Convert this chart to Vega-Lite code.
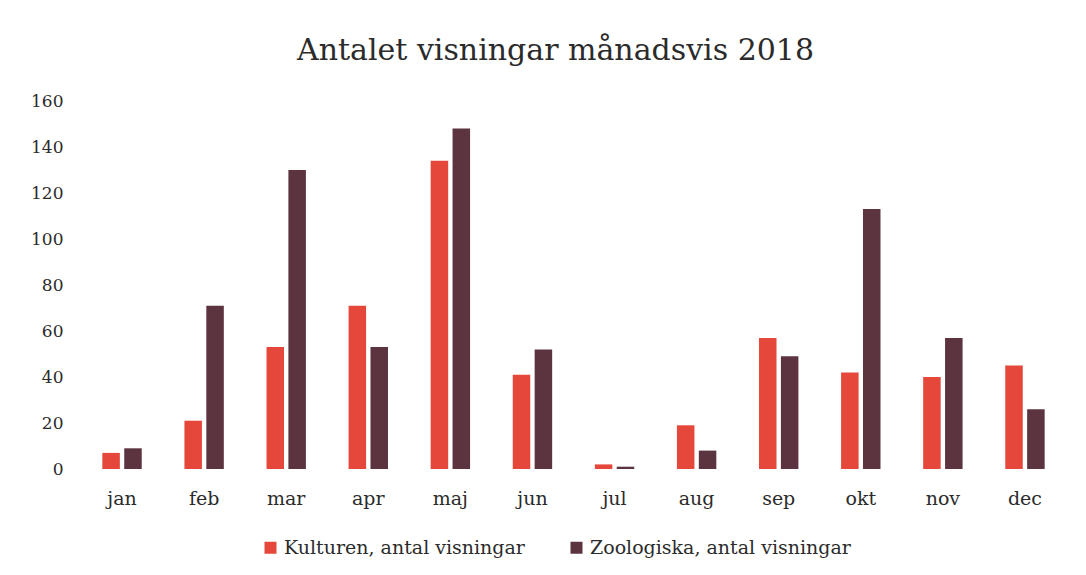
{
  "$schema": "https://vega.github.io/schema/vega-lite/v6.json",
  "width": 985,
  "height": 368,
  "autosize": "none",
  "padding": {"left": 81, "top": 101, "right": 20, "bottom": 106},
  "background": "white",
  "title": {
    "text": "Antalet visningar månadsvis 2018",
    "font": "DejaVu Serif",
    "fontSize": 30,
    "fontWeight": "normal",
    "color": "#2b2b2b",
    "anchor": "middle",
    "dx": -18,
    "offset": 26
  },
  "data": {
    "values": [
      {"month": "jan", "serie": "Kulturen, antal visningar", "value": 7},
      {"month": "jan", "serie": "Zoologiska, antal visningar", "value": 9},
      {"month": "feb", "serie": "Kulturen, antal visningar", "value": 21},
      {"month": "feb", "serie": "Zoologiska, antal visningar", "value": 71},
      {"month": "mar", "serie": "Kulturen, antal visningar", "value": 53},
      {"month": "mar", "serie": "Zoologiska, antal visningar", "value": 130},
      {"month": "apr", "serie": "Kulturen, antal visningar", "value": 71},
      {"month": "apr", "serie": "Zoologiska, antal visningar", "value": 53},
      {"month": "maj", "serie": "Kulturen, antal visningar", "value": 134},
      {"month": "maj", "serie": "Zoologiska, antal visningar", "value": 148},
      {"month": "jun", "serie": "Kulturen, antal visningar", "value": 41},
      {"month": "jun", "serie": "Zoologiska, antal visningar", "value": 52},
      {"month": "jul", "serie": "Kulturen, antal visningar", "value": 2},
      {"month": "jul", "serie": "Zoologiska, antal visningar", "value": 1},
      {"month": "aug", "serie": "Kulturen, antal visningar", "value": 19},
      {"month": "aug", "serie": "Zoologiska, antal visningar", "value": 8},
      {"month": "sep", "serie": "Kulturen, antal visningar", "value": 57},
      {"month": "sep", "serie": "Zoologiska, antal visningar", "value": 49},
      {"month": "okt", "serie": "Kulturen, antal visningar", "value": 42},
      {"month": "okt", "serie": "Zoologiska, antal visningar", "value": 113},
      {"month": "nov", "serie": "Kulturen, antal visningar", "value": 40},
      {"month": "nov", "serie": "Zoologiska, antal visningar", "value": 57},
      {"month": "dec", "serie": "Kulturen, antal visningar", "value": 45},
      {"month": "dec", "serie": "Zoologiska, antal visningar", "value": 26}
    ]
  },
  "mark": {"type": "bar"},
  "encoding": {
    "x": {
      "field": "month",
      "type": "nominal",
      "sort": ["jan","feb","mar","apr","maj","jun","jul","aug","sep","okt","nov","dec"],
      "scale": {"paddingInner": 0.52, "paddingOuter": 0.26},
      "axis": {
        "title": null,
        "labelAngle": 0,
        "labelFont": "DejaVu Serif",
        "labelFontSize": 19,
        "labelColor": "#2b2b2b",
        "labelPadding": 20,
        "domain": false,
        "ticks": false
      }
    },
    "xOffset": {
      "field": "serie",
      "type": "nominal",
      "scale": {"paddingInner": 0.2}
    },
    "y": {
      "field": "value",
      "type": "quantitative",
      "scale": {"domain": [0, 160], "nice": false},
      "axis": {
        "title": null,
        "values": [0,20,40,60,80,100,120,140,160],
        "labelFont": "DejaVu Serif",
        "labelFontSize": 17,
        "labelColor": "#2b2b2b",
        "labelPadding": 18,
        "domain": false,
        "ticks": false,
        "grid": false
      }
    },
    "color": {
      "field": "serie",
      "type": "nominal",
      "scale": {"range": ["#e6473b", "#5b3440"]},
      "legend": {
        "title": null,
        "orient": "none",
        "legendX": 180,
        "legendY": 437,
        "direction": "horizontal",
        "symbolType": "square",
        "symbolSize": 144,
        "labelFont": "DejaVu Serif",
        "labelFontSize": 19,
        "labelColor": "#2b2b2b",
        "columnPadding": 42,
        "labelLimit": 400
      }
    }
  },
  "config": {"view": {"stroke": null}}
}
